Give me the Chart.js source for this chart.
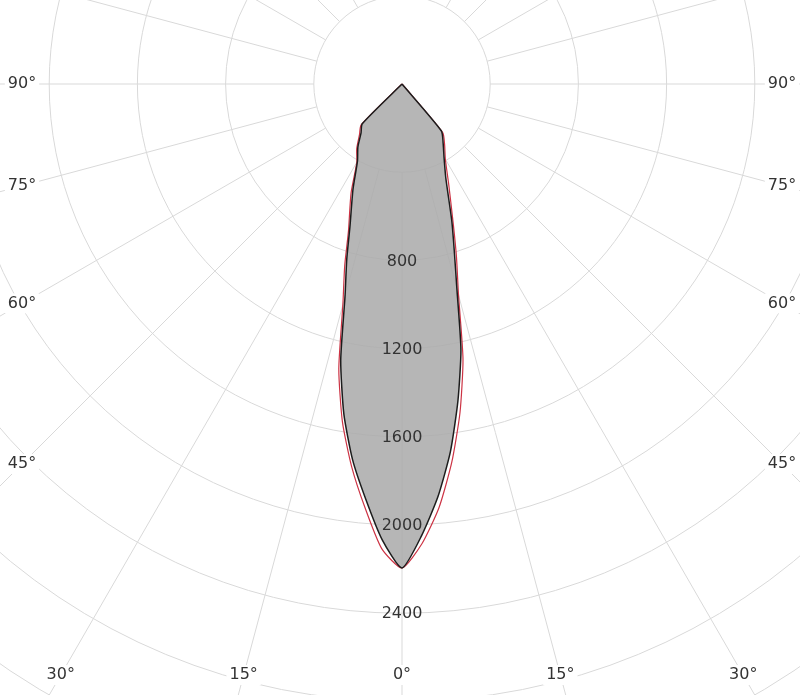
<!DOCTYPE html>
<html>
<head>
<meta charset="utf-8">
<script src="https://cdn.jsdelivr.net/npm/chart.js@4.4.0/dist/chart.umd.min.js"></script>
<style>
  html, body { margin: 0; padding: 0; background: #fff; }
  #wrap { width: 800px; height: 695px; position: relative; }
</style>
</head>
<body>
<div id="wrap"><canvas id="polarChart"></canvas></div>
<script>
// gamma angle in degrees, negative = left half of the diagram
const angles = [-90, -85, -80, -75, -70, -65, -60, -55, -50,
  -45, -40, -35, -30, -25, -20, -17.5, -15, -12.5, -10, -7.5, -5, -2.5,
  0,
  2.5, 5, 7.5, 10, 12.5, 15, 17.5, 20, 25, 30, 35, 40, 45,
  50, 55, 60, 65, 70, 75, 80, 85, 90];

// luminous intensity (cd)
const curveBlack = [0, 0, 0, 0, 0, 0, 0, 0, 0,
  255, 289, 349, 404, 526, 691, 833, 999, 1284, 1519, 1718, 1889, 2068,
  2195,
  2049, 1877, 1682, 1460, 1235, 962, 787, 660, 470, 381, 325, 278, 0,
  0, 0, 0, 0, 0, 0, 0, 0, 0];

const curveRed = [0, 0, 0, 0, 0, 0, 0, 0, 0,
  262, 300, 358, 410, 547, 710, 864, 1036, 1324, 1556, 1750, 1928, 2109,
  2195,
  2086, 1928, 1730, 1514, 1278, 990, 821, 682, 501, 393, 337, 287, 0,
  0, 0, 0, 0, 0, 0, 0, 0, 0];

const ringValues = [400, 800, 1200, 1600, 2000, 2400, 2800, 3200, 3600];
const ringLabels = [800, 1200, 1600, 2000, 2400];
const angleLabels = [0, 15, 30, 45, 60, 75, 90, 105];
const spokeStep = 15;

// layout: pole position on the canvas and cd per pixel
const W = 800, H = 695;
const poleX = 402, poleY = 84;
const pxPerCd = 0.2205;

const gridColor = '#d9d9d9';
const textColor = '#333333';
const labelFont = '16px "DejaVu Sans", Verdana, sans-serif';

function toXY(vals) {
  return angles.map((a, i) => {
    const t = a * Math.PI / 180;
    return { x: vals[i] * Math.sin(t), y: -vals[i] * Math.cos(t) };
  });
}

const polarGrid = {
  id: 'polarGrid',
  beforeDatasetsDraw(chart) {
    const { ctx, scales: { x, y } } = chart;
    const cx = x.getPixelForValue(0), cy = y.getPixelForValue(0);
    const rad = v => x.getPixelForValue(v) - cx;
    ctx.save();
    ctx.strokeStyle = gridColor;
    ctx.lineWidth = 1;
    ringValues.forEach(v => {
      ctx.beginPath();
      ctx.arc(cx, cy, rad(v), 0, Math.PI * 2);
      ctx.stroke();
    });
    const r0 = rad(ringValues[0]);
    const r1 = rad(ringValues[ringValues.length - 1]);
    for (let a = 0; a < 360; a += spokeStep) {
      const t = a * Math.PI / 180;
      ctx.beginPath();
      ctx.moveTo(cx + r0 * Math.sin(t), cy + r0 * Math.cos(t));
      ctx.lineTo(cx + r1 * Math.sin(t), cy + r1 * Math.cos(t));
      ctx.stroke();
    }
    ctx.restore();
  },
  afterDatasetsDraw(chart) {
    const { ctx, chartArea: area, scales: { x, y } } = chart;
    const cx = x.getPixelForValue(0), cy = y.getPixelForValue(0);
    ctx.save();
    ctx.font = labelFont;
    ctx.fillStyle = textColor;
    ctx.textAlign = 'center';
    ctx.textBaseline = 'middle';

    // intensity labels down the 0° spoke
    ringLabels.forEach(v => {
      ctx.fillText(String(v), cx, y.getPixelForValue(-v) + 1);
    });

    // angle labels where each spoke leaves the frame
    const left = area.left + 22, right = area.right - 18, bottom = area.bottom - 20;
    angleLabels.forEach(a => {
      [-1, 1].forEach(side => {
        if (a === 0 && side < 0) return;
        const t = side * a * Math.PI / 180;
        const dx = Math.sin(t), dy = Math.cos(t);
        let k = Infinity;
        if (dy > 1e-9) k = Math.min(k, (bottom - cy) / dy);
        if (dx < -1e-9) k = Math.min(k, (cx - left) / -dx);
        if (dx > 1e-9) k = Math.min(k, (right - cx) / dx);
        const px = cx + k * dx, py = cy + k * dy;
        if (py < area.top + 6) return;
        const txt = a + '°';
        const w = ctx.measureText(txt).width;
        ctx.fillStyle = '#ffffff';
        ctx.fillRect(px - w / 2 - 3, py - 10, w + 6, 20);
        ctx.fillStyle = textColor;
        ctx.fillText(txt, px, py);
      });
    });
    ctx.restore();
  }
};

new Chart(document.getElementById('polarChart'), {
  type: 'scatter',
  data: {
    datasets: [
      {
        label: 'C90-C270',
        data: toXY(curveBlack),
        showLine: true,
        borderColor: '#1c1c1c',
        borderWidth: 1.5,
        backgroundColor: 'rgba(172,172,172,0.88)',
        fill: 'shape',
        pointRadius: 0,
        tension: 0.2,
        order: 0
      },
      {
        label: 'C0-C180',
        data: toXY(curveRed),
        showLine: true,
        borderColor: '#cc3344',
        borderWidth: 1.2,
        fill: false,
        pointRadius: 0,
        tension: 0.2,
        order: 1
      }
    ]
  },
  options: {
    responsive: true,
    maintainAspectRatio: false,
    animation: false,
    layout: { padding: 0 },
    scales: {
      x: { type: 'linear', display: false, min: -poleX / pxPerCd, max: (W - poleX) / pxPerCd },
      y: { type: 'linear', display: false, min: -(H - poleY) / pxPerCd, max: poleY / pxPerCd }
    },
    plugins: {
      legend: { display: false },
      tooltip: { enabled: false }
    }
  },
  plugins: [polarGrid]
});
</script>
</body>
</html>
